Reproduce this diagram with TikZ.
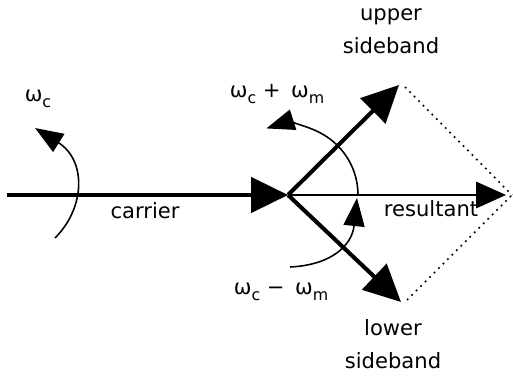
\documentclass[tikz,border=0pt]{standalone}
\usepackage{fontspec}
\setmainfont{DejaVu Sans}
\usetikzlibrary{arrows.meta}

\newcommand{\omsub}[1]{ω\raisebox{-0.55ex}{\small #1}}

\tikzset{
  thickvec/.style={line width=2.3pt, -{Triangle[length=21pt,width=20pt]}},
  thinvec/.style={line width=1.1pt, -{Triangle[length=17pt,width=15pt]}},
  spin/.style={line width=0.9pt, -{Triangle[length=16pt,width=12pt]}},
  guide/.style={line width=0.9pt, dash pattern=on 1pt off 2.6pt},
  lbl/.style={font=\fontsize{12}{18.5}\selectfont, align=center, inner sep=1pt}
}

\begin{document}
\begin{tikzpicture}[x=0.02cm, y=0.02cm]
\useasboundingbox (0,0) rectangle (513,375);

% points of the phasor diagram
\coordinate (start) at (7,180);
\coordinate (origin) at (288,180);
\coordinate (usb) at (399,290);
\coordinate (lsb) at (401,73);
\coordinate (res) at (506,180);
\coordinate (corner) at (512,180);

% carrier and the two sidebands
\draw[thickvec] (start) -- (origin);
\draw[thickvec] (origin) -- (usb);
\draw[thickvec] (origin) -- (lsb);

% resultant
\draw[thinvec] (origin) -- (res);

% completing the parallelogram
\draw[guide] (usb) ++(6,-2) -- (corner);
\draw[guide] (lsb) ++(6,2) -- (corner);

% rotation arrows
\draw[spin] (55,137) .. controls (86,168) and (86,215) .. (35,247);
\draw[spin] (origin) ++(70,0) arc[start angle=0, end angle=108, radius=70];
\draw[spin] (290,108) .. controls (332,110) and (352,130) .. (357,177);

% labels
\node[lbl] (upperlbl) at (391,344) {upper\\sideband};
\node[lbl] (lowerlbl) at (393,31) {lower\\sideband};
\node[lbl] (reslbl) at (431,166) {resultant};
\node[lbl] (carlbl) at (145,164) {carrier};
\node[lbl] (wc) at (38,276) {\omsub{c}};
\node[lbl] (wsum) at (277,281) {\omsub{c} +\enspace \omsub{m}};
\node[lbl] (wdiff) at (281,83) {\omsub{c} −\enspace \omsub{m}};

\end{tikzpicture}
\end{document}
